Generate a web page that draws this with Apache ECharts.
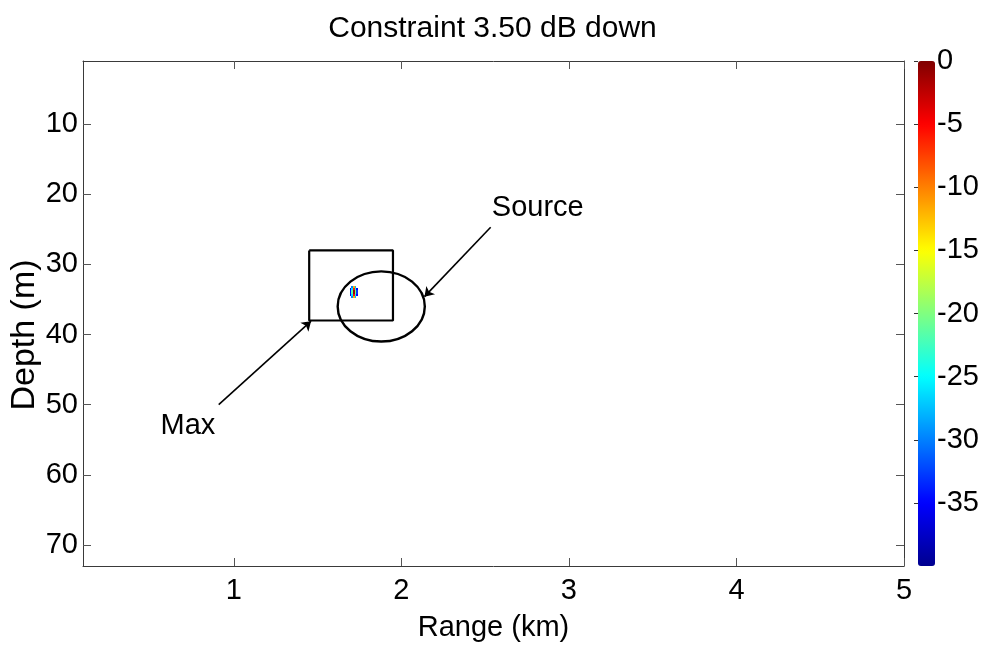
<!DOCTYPE html>
<html>
<head>
<meta charset="utf-8">
<title>Constraint 3.50 dB down</title>
<script src="https://cdn.jsdelivr.net/npm/echarts@6/dist/echarts.min.js"></script>
<style>
  html, body { margin: 0; padding: 0; background: #fff; }
  #chart { width: 985px; height: 651px; }
</style>
</head>
<body>
<div id="chart"></div>
<script>
// Axis ticks
const rangeTicks = [1, 2, 3, 4, 5];
const depthTicks = [10, 20, 30, 40, 50, 60, 70];
const levelTicks = [0, -5, -10, -15, -20, -25, -30, -35];

// Ambiguity surface cells above the display floor (dB); null = below floor
const blobRange = [1.697, 1.707, 1.717, 1.727, 1.737];
const blobDepth = [33.2, 33.5, 33.8, 34.1, 34.4, 34.7];
const blobLevel = [
  [null, -30, -12, -28, null],
  [-36, -26, -6, -24, -35],
  [-35, -22, -1, -20, -33],
  [-35, -22, -1, -20, -33],
  [-36, -26, -5, -24, -35],
  [null, -30, -12, -28, null]
];

// Constraint box (range km, depth m)
const boxRange = [1.45, 1.95, 1.95, 1.45, 1.45];
const boxDepth = [28, 28, 38, 38, 28];

// Source ellipse: centre and semi-axes
const srcEllipse = { range: 1.88, depth: 36, rRange: 0.26, rDepth: 5 };

// Annotation arrows: [tail, head]
const arrowMax = [[0.91, 50], [1.461, 38.1]];
const arrowSource = [[2.533, 24.7], [2.138, 34.6]];

// Annotation text
const noteLabels = ['Source', 'Max'];
const noteRange = [2.54, 0.563];
const noteDepth = [21.9, 53];

const jet = ['#00008F', '#0000FF', '#0080FF', '#00FFFF', '#80FF80',
             '#FFFF00', '#FF8000', '#FF0000', '#800000'];

const FONT = 'Liberation Sans';
const FS = 29;

const cells = [];
blobLevel.forEach((row, i) => {
  row.forEach((v, j) => {
    if (v !== null) cells.push([blobRange[j], blobDepth[i], v]);
  });
});
const halfW = (blobRange[1] - blobRange[0]) / 2;
const halfH = (blobDepth[1] - blobDepth[0]) / 2;

const chart = echarts.init(document.getElementById('chart'), null, { renderer: 'canvas' });

const frameAxis = (extra) => Object.assign({
  type: 'value',
  gridIndex: 0,
  axisLine: { show: true, onZero: false, lineStyle: { color: '#3a3a3a', width: 1 } },
  splitLine: { show: false }
}, extra);

const option = {
  backgroundColor: '#fff',
  animation: false,
  title: {
    text: 'Constraint 3.50 dB down',
    left: 'center',
    top: 9,
    textStyle: { fontFamily: FONT, fontSize: 30, fontWeight: 'normal', color: '#000' }
  },
  grid: [
    { left: 83, right: 81, top: 61, bottom: 85 },
    { left: 918, width: 17, top: 61, height: 505 }
  ],
  graphic: [
    {
      // depth axis title
      type: 'text',
      x: 25,
      y: 335,
      rotation: Math.PI / 2,
      style: {
        text: 'Depth (m)',
        font: '34px "' + FONT + '"',
        fill: '#000',
        align: 'center',
        verticalAlign: 'middle'
      }
    }
  ],
  xAxis: [
    frameAxis({
      position: 'bottom', min: 0.1, max: 5,
      axisTick: { show: true, inside: true, length: 8, customValues: rangeTicks, lineStyle: { color: '#555' } },
      axisLabel: { customValues: rangeTicks, fontFamily: FONT, fontSize: FS, color: '#000', margin: 10 },
      name: 'Range (km)', nameLocation: 'middle', nameGap: 47,
      nameTextStyle: { fontFamily: FONT, fontSize: FS, color: '#000' }
    }),
    frameAxis({
      position: 'top', min: 0.1, max: 5,
      axisTick: { show: true, inside: true, length: 8, customValues: rangeTicks, lineStyle: { color: '#555' } },
      axisLabel: { show: false }
    }),
    { type: 'value', gridIndex: 1, min: 0, max: 1, show: false }
  ],
  yAxis: [
    frameAxis({
      position: 'left', inverse: true, min: 1, max: 73,
      axisTick: { show: true, inside: true, length: 8, customValues: depthTicks, lineStyle: { color: '#555' } },
      axisLabel: { customValues: depthTicks, fontFamily: FONT, fontSize: FS, color: '#000', margin: 5 }
    }),
    frameAxis({
      position: 'right', inverse: true, min: 1, max: 73,
      axisTick: { show: true, inside: true, length: 8, customValues: depthTicks, lineStyle: { color: '#555' } },
      axisLabel: { show: false }
    }),
    {
      type: 'value', gridIndex: 1, position: 'right', min: -40, max: 0,
      axisLine: { show: false },
      splitLine: { show: false },
      axisTick: { show: true, inside: true, length: 4, customValues: levelTicks, lineStyle: { color: '#333' } },
      axisLabel: { customValues: levelTicks, fontFamily: FONT, fontSize: FS, color: '#000', margin: 2 }
    }
  ],
  visualMap: {
    type: 'continuous',
    seriesIndex: 0,
    dimension: 2,
    min: -40,
    max: 0,
    orient: 'vertical',
    left: 918,
    top: 61,
    padding: 0,
    itemWidth: 17,
    itemHeight: 505,
    calculable: false,
    inRange: { color: jet }
  },
  series: [
    {
      // ambiguity surface cells, snapped to whole pixels
      type: 'custom',
      xAxisIndex: 0, yAxisIndex: 0,
      data: cells,
      renderItem: (params, api) => {
        const x = api.value(0), y = api.value(1);
        const p0 = api.coord([x - halfW, y - halfH]);
        const p1 = api.coord([x + halfW, y + halfH]);
        const x0 = Math.round(Math.min(p0[0], p1[0]));
        const x1 = Math.round(Math.max(p0[0], p1[0]));
        const y0 = Math.round(Math.min(p0[1], p1[1]));
        const y1 = Math.round(Math.max(p0[1], p1[1]));
        return {
          type: 'rect',
          shape: { x: x0, y: y0, width: Math.max(1, x1 - x0), height: Math.max(1, y1 - y0) },
          style: { fill: api.visual('color') }
        };
      },
      z: 2
    },
    {
      // constraint box
      type: 'line',
      xAxisIndex: 0, yAxisIndex: 0,
      data: boxRange.map((r, i) => [r, boxDepth[i]]),
      symbol: 'none',
      lineStyle: { color: '#000', width: 2.2 },
      z: 3
    },
    {
      // source ellipse
      type: 'custom',
      xAxisIndex: 0, yAxisIndex: 0,
      data: [[srcEllipse.range, srcEllipse.depth, srcEllipse.rRange, srcEllipse.rDepth]],
      renderItem: (params, api) => {
        const c = api.coord([api.value(0), api.value(1)]);
        const s = api.size([api.value(2), api.value(3)]);
        return {
          type: 'ellipse',
          shape: { cx: c[0], cy: c[1], rx: s[0], ry: s[1] },
          style: { fill: 'none', stroke: '#000', lineWidth: 2.4 }
        };
      },
      z: 3
    },
    {
      // annotation arrows
      type: 'lines',
      coordinateSystem: 'cartesian2d',
      xAxisIndex: 0, yAxisIndex: 0,
      data: [{ coords: arrowMax }, { coords: arrowSource }],
      symbol: ['none', 'arrow'],
      symbolSize: 9,
      lineStyle: { color: '#000', width: 1.6, opacity: 1 },
      z: 4
    },
    {
      // annotation text
      type: 'custom',
      xAxisIndex: 0, yAxisIndex: 0,
      data: noteLabels.map((n, i) => ({ name: n, value: [noteRange[i], noteDepth[i]] })),
      renderItem: (params, api) => {
        const c = api.coord([api.value(0), api.value(1)]);
        return {
          type: 'text',
          x: c[0], y: c[1],
          style: {
            text: noteLabels[params.dataIndex],
            fill: '#000',
            font: FS + 'px "' + FONT + '"',
            align: 'left',
            verticalAlign: 'middle'
          }
        };
      },
      z: 5
    }
  ]
};

chart.setOption(option);
</script>
</body>
</html>
